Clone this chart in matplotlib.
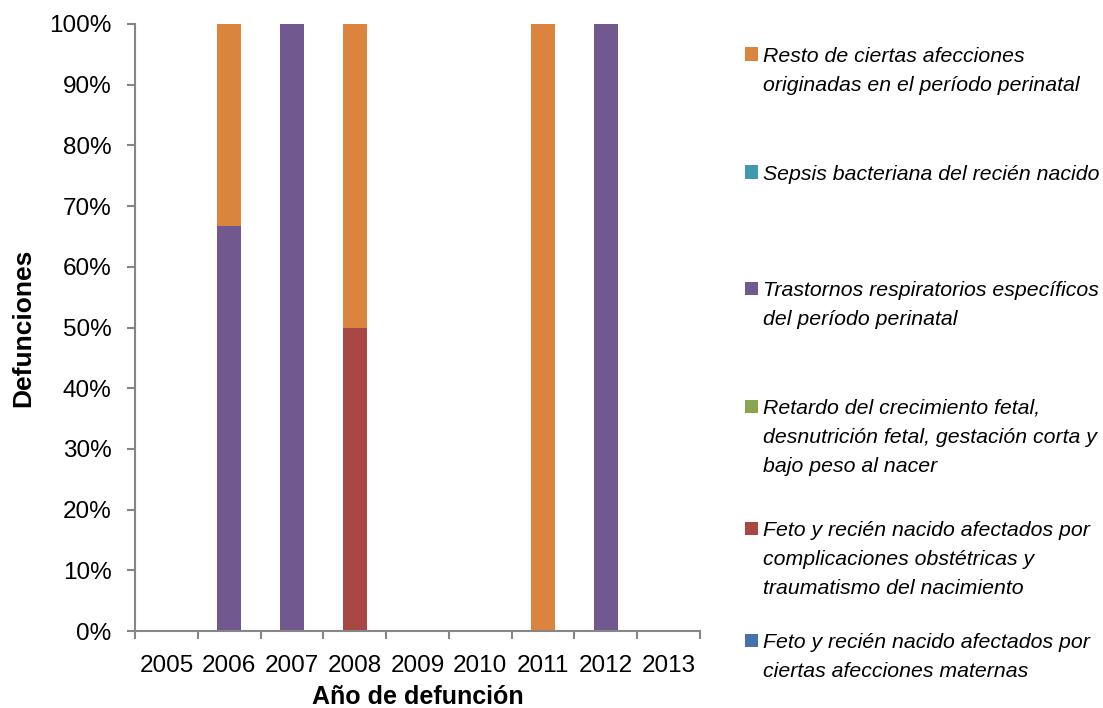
import numpy as np
import matplotlib
matplotlib.use("Agg")
import matplotlib.pyplot as plt
from matplotlib.patches import Rectangle
from matplotlib.ticker import PercentFormatter, FixedLocator

plt.rcParams['font.family'] = ['Liberation Sans', 'DejaVu Sans']

years = ['2005', '2006', '2007', '2008', '2009', '2010', '2011', '2012', '2013']

# Share of deaths per cause (percent), stacked bottom to top
maternas       = [0, 0,     0,   0,  0, 0, 0,   0,   0]
complicaciones = [0, 0,     0,   50, 0, 0, 0,   0,   0]
retardo        = [0, 0,     0,   0,  0, 0, 0,   0,   0]
trastornos     = [0, 66.67, 100, 0,  0, 0, 0,   100, 0]
sepsis         = [0, 0,     0,   0,  0, 0, 0,   0,   0]
resto          = [0, 33.33, 0,   50, 0, 0, 100, 0,   0]

series_labels = [
    "Feto y recién nacido afectados por\nciertas afecciones maternas",
    "Feto y recién nacido afectados por\ncomplicaciones obstétricas y\ntraumatismo del nacimiento",
    "Retardo del crecimiento fetal,\ndesnutrición fetal, gestación corta y\nbajo peso al nacer",
    "Trastornos respiratorios específicos\ndel período perinatal",
    "Sepsis bacteriana del recién nacido",
    "Resto de ciertas afecciones\noriginadas en el período perinatal",
]
series_values = [maternas, complicaciones, retardo, trastornos, sepsis, resto]
series_colors = ['#4572A7', '#AA4643', '#89A54E', '#71588F', '#4198AF', '#DB843D']

W, H = 1103, 708
ax_left, ax_right, ax_top, ax_bottom = 135, 700, 24, 631
fig = plt.figure(figsize=(W / 100, H / 100), dpi=100)
ax = fig.add_axes([ax_left / W, 1 - ax_bottom / H, (ax_right - ax_left) / W,
                   (ax_bottom - ax_top) / H])

x = np.arange(len(years))
bottom = np.zeros(len(years))
for vals, col in zip(series_values, series_colors):
    v = np.array(vals, dtype=float)
    ax.bar(x, v, bottom=bottom, width=0.38, color=col, linewidth=0)
    bottom += v

axis_grey = '#868686'
ax.set_xlim(-0.5, len(years) - 0.5)
ax.set_ylim(0, 100)
ax.yaxis.set_major_locator(FixedLocator(np.arange(0, 101, 10)))
ax.yaxis.set_major_formatter(PercentFormatter(decimals=0))
ax.set_xticks(x)
ax.set_xticklabels(years)
ax.xaxis.set_minor_locator(FixedLocator(np.arange(-0.5, len(years), 1.0)))

for side in ['top', 'right']:
    ax.spines[side].set_visible(False)
for side in ['left', 'bottom']:
    ax.spines[side].set_color(axis_grey)
    ax.spines[side].set_linewidth(1.5)

ax.tick_params(axis='y', direction='out', length=6, width=1.5, color=axis_grey,
               labelsize=17.5, pad=11, labelcolor='black')
ax.tick_params(axis='x', which='major', length=0, labelsize=17.5, pad=17, labelcolor='black')
ax.tick_params(axis='x', which='minor', direction='out', length=6, width=1.5, color=axis_grey)

ax.set_ylabel('Defunciones', fontsize=19, fontweight='bold')
ax.yaxis.set_label_coords(23 / W, 1 - (ax_top + ax_bottom) / 2 / H, transform=fig.transFigure)
ax.set_xlabel('Año de defunción', fontsize=18, fontweight='bold')
ax.xaxis.set_label_coords((ax_left + ax_right) / 2 / W, 1 - 697 / H, transform=fig.transFigure)
ax.xaxis.label.set_va('center')
ax.yaxis.label.set_va('center')

# Legend, listed top-down in reverse stacking order; each line placed on its own baseline
entry_centers = [54, 172, 288, 406, 528, 640]
line_step = 29.5
for yc, lab, col in zip(entry_centers, series_labels[::-1], series_colors[::-1]):
    fig.patches.append(Rectangle((745 / W, 1 - (yc + 6.5) / H), 13 / W, 13 / H,
                                 transform=fig.transFigure, facecolor=col,
                                 edgecolor='none'))
    for i, line in enumerate(lab.split('\n')):
        fig.text(763 / W, 1 - (yc + 7.5 + i * line_step) / H, line, fontsize=15.3,
                 style='italic', va='baseline', ha='left')

fig.savefig('out.png', dpi=100)
